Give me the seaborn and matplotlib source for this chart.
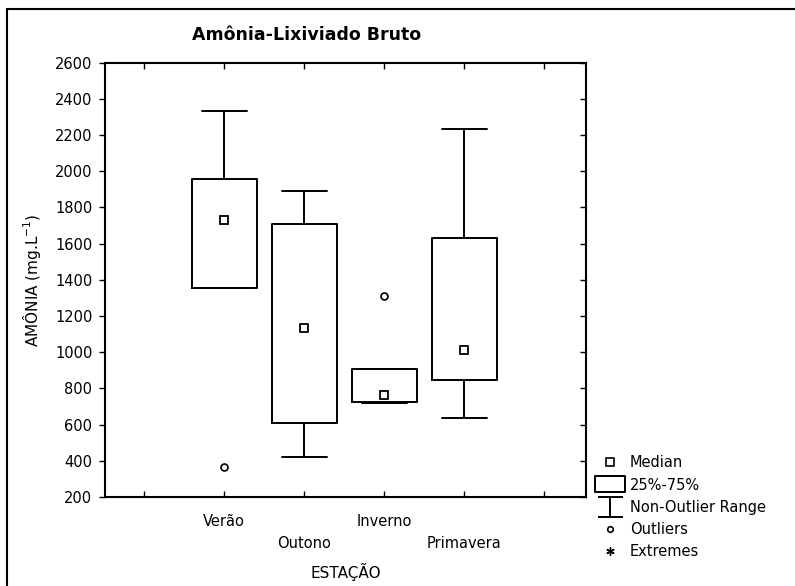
import pandas as pd
import matplotlib.pyplot as plt
import matplotlib.lines as mlines
from matplotlib.path import Path
import seaborn as sns

# === Data (mg/L) ===
seasons = ["Verão", "Outono", "Inverno", "Primavera"]
verao = [368, 1352, 1732, 1955, 2334]
outono = [418, 611, 1135, 1709, 1891]
inverno = [718, 725, 766, 907, 1310]
primavera = [637, 846, 1012, 1630, 2235]

tick_pos = [-1, 0, 1, 2, 3, 4]
tick_labels = ["", "Verão", "Outono", "Inverno", "Primavera", ""]
y_ticks = list(range(200, 2601, 200))

df = pd.DataFrame({
    "estacao": sum([[s] * 5 for s in seasons], []),
    "amonia": verao + outono + inverno + primavera,
})

sns.set_theme(style="white")
plt.rcParams["font.family"] = ["DejaVu Sans"]
plt.rcParams["text.color"] = "black"
plt.rcParams["axes.labelcolor"] = "black"
plt.rcParams["xtick.color"] = "black"
plt.rcParams["ytick.color"] = "black"

fig = plt.figure(figsize=(7.95, 5.86), dpi=100)
ax = fig.add_axes([0.132, 0.152, 0.605, 0.741])

line_kw = dict(color="black", linewidth=1.4)
sns.boxplot(
    data=df, x="estacao", y="amonia", order=seasons, ax=ax,
    width=0.81, whis=1.5, fill=False, color="black", linewidth=1.4,
    fliersize=5, capwidths=0.56,
    medianprops={"visible": False},
    boxprops=line_kw, whiskerprops=line_kw, capprops=line_kw,
    flierprops=dict(marker="o", markerfacecolor="white", markeredgecolor="black",
                    markeredgewidth=1.2),
)
sns.pointplot(
    data=df, x="estacao", y="amonia", order=seasons, ax=ax,
    estimator="median", errorbar=None, linestyle="none", marker="s",
    markersize=6, markerfacecolor="white", markeredgecolor="black",
    markeredgewidth=1.3, color="black",
)

ax.set_xlim(-1.49, 4.52)
ax.set_ylim(200, 2600)
ax.set_yticks(y_ticks)
ax.set_xticks(tick_pos)
ax.set_xticklabels(tick_labels, fontsize=10.5)
ax.tick_params(axis="y", labelsize=10.5, direction="out", length=4, width=1,
               left=True, right=False, pad=5)
ax.tick_params(axis="x", direction="in", length=4, width=1, bottom=True, top=True, pad=12)
ticks = ax.xaxis.get_major_ticks()
ticks[2].set_pad(28)
ticks[4].set_pad(28)

# inward ticks on the right side
sec = ax.secondary_yaxis("right")
sec.set_yticks(y_ticks)
sec.tick_params(direction="in", length=4, width=1, labelright=False)
sec.spines["right"].set_visible(False)

for s in ax.spines.values():
    s.set_visible(True)
    s.set_color("black")
    s.set_linewidth(1.5)

ax.set_xlabel("ESTAÇÃO", fontsize=11)
ax.xaxis.set_label_coords(0.5, -0.152)
ax.set_ylabel("AMÔNIA (mg.L$^{-1}$)", fontsize=11)
ax.yaxis.set_label_coords(-0.128, 0.5)

fig.text(0.385, 0.94, "Amônia-Lixiviado Bruto", ha="center", va="center",
         fontsize=12.5, fontweight="bold")

# outer frame (top and left only)
fig.add_artist(mlines.Line2D([0.009, 0.009], [0, 0.985], transform=fig.transFigure,
                             color="black", linewidth=1.5))
fig.add_artist(mlines.Line2D([0.009, 1], [0.985, 0.985], transform=fig.transFigure,
                             color="black", linewidth=1.5))

# legend in the Statistica style
rect = Path([(-1, -0.5), (1, -0.5), (1, 0.5), (-1, 0.5), (-1, -0.5)],
            [Path.MOVETO, Path.LINETO, Path.LINETO, Path.LINETO, Path.CLOSEPOLY])
ibeam = Path([(-1, 0.8), (1, 0.8), (0, 0.8), (0, -0.8), (-1, -0.8), (1, -0.8)],
             [Path.MOVETO, Path.LINETO, Path.MOVETO, Path.LINETO, Path.MOVETO, Path.LINETO])
handles = [
    mlines.Line2D([], [], linestyle="none", marker="s", markersize=5.5,
                  markerfacecolor="white", markeredgecolor="black", markeredgewidth=1.2),
    mlines.Line2D([], [], linestyle="none", marker=rect, markersize=22,
                  markerfacecolor="white", markeredgecolor="black", markeredgewidth=1.4),
    mlines.Line2D([], [], linestyle="none", marker=ibeam, markersize=18,
                  color="black", markeredgewidth=1.4),
    mlines.Line2D([], [], linestyle="none", marker="o", markersize=4,
                  markerfacecolor="white", markeredgecolor="black", markeredgewidth=1.2),
    mlines.Line2D([], [], linestyle="none", marker=(6, 2, 0), markersize=6,
                  color="black", markeredgewidth=1),
]
fig.legend(handles, ["Median", "25%-75%", "Non-Outlier Range", "Outliers", "Extremes"],
           loc="upper left", bbox_to_anchor=(0.742, 0.233), frameon=False,
           fontsize=10.5, handlelength=2.0, handletextpad=0.35, labelspacing=0.5,
           borderaxespad=0)

plt.savefig("out.png", dpi=100)
